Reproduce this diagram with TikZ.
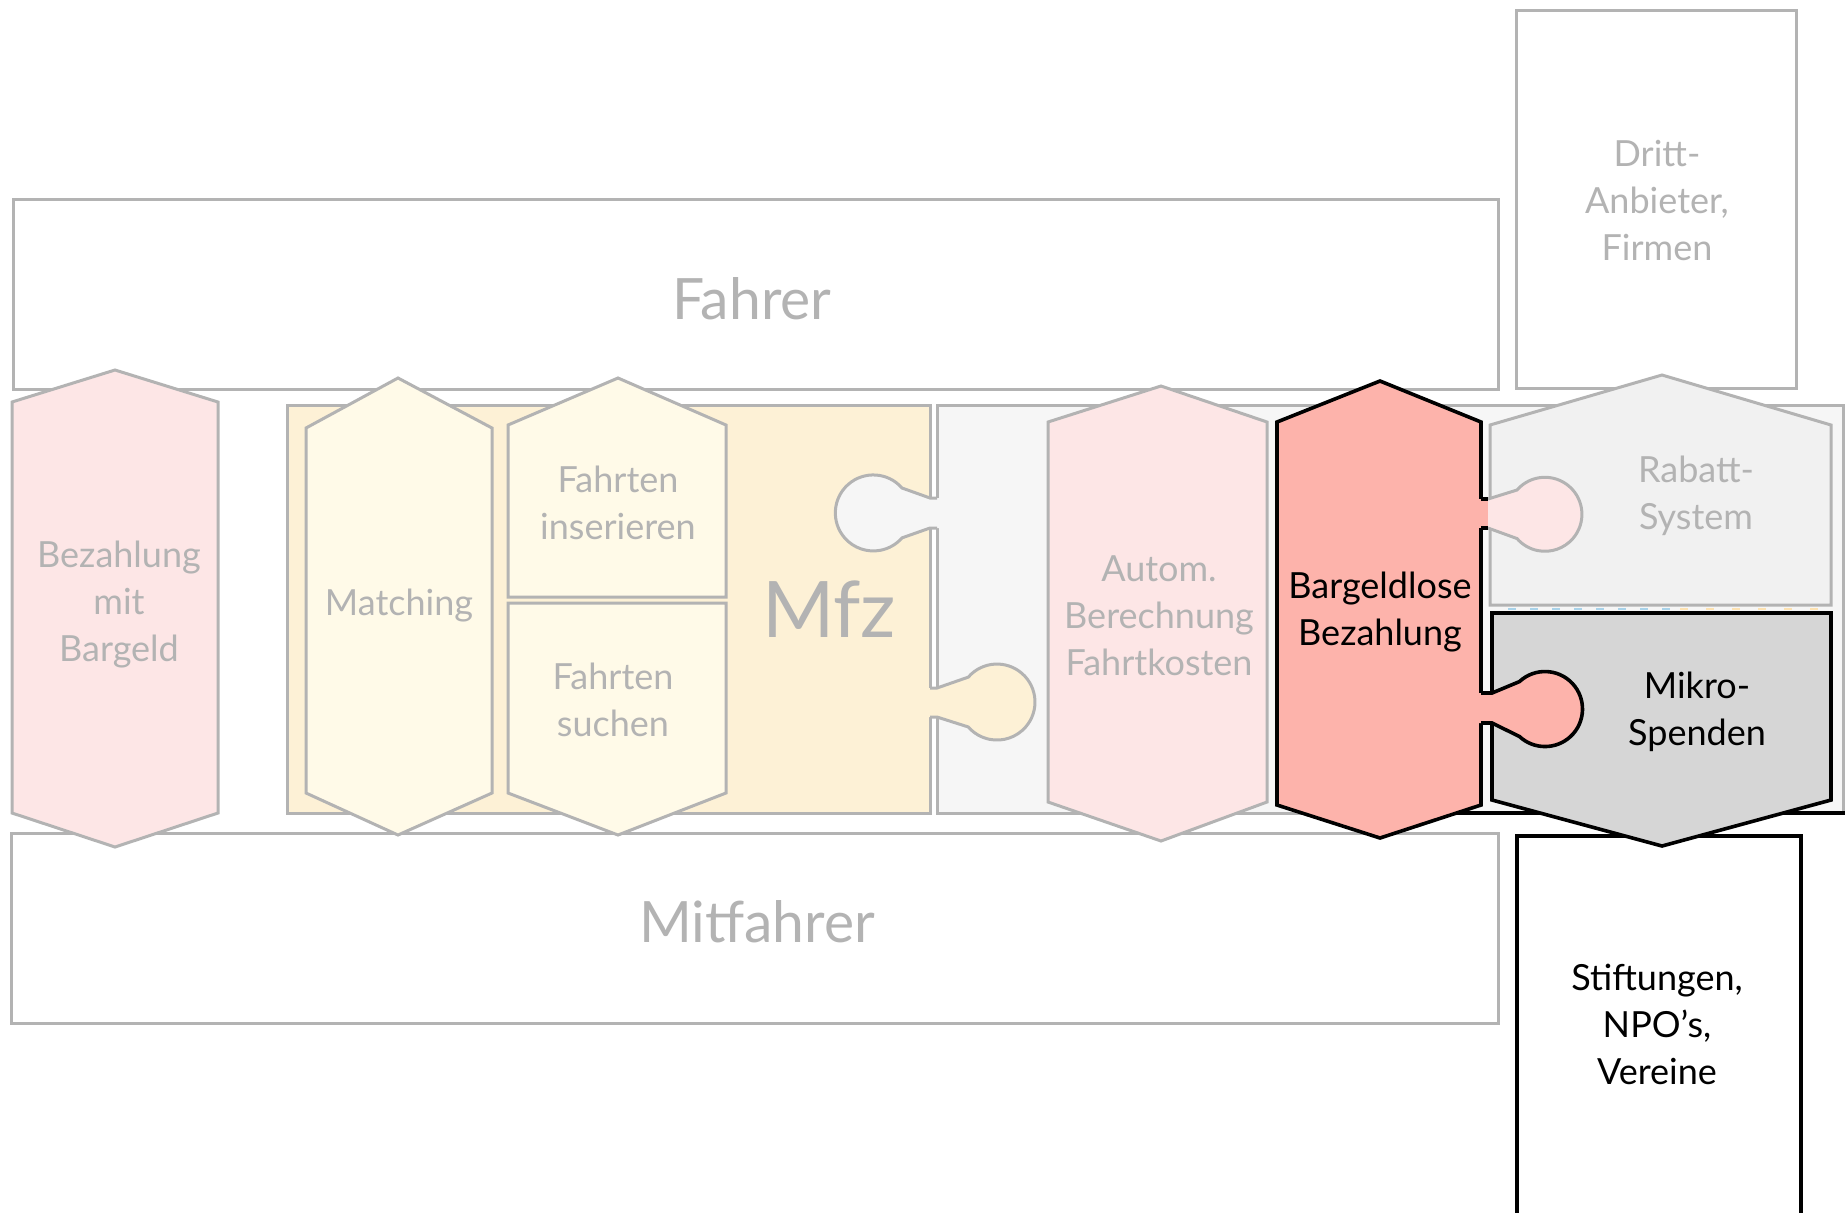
\documentclass[tikz,border=0pt]{standalone}
\usepackage{fontspec}
\setmainfont{Lato}
\definecolor{cgray}{HTML}{B3B3B3}
\definecolor{pinkfill}{HTML}{FDE6E6}
\definecolor{salmon}{HTML}{FDB3AB}
\definecolor{mfzfill}{HTML}{FDF1D6}
\definecolor{hexyellow}{HTML}{FFFAE8}
\definecolor{panelgray}{HTML}{F6F6F6}
\definecolor{rabattfill}{HTML}{F1F1F1}
\definecolor{mikrofill}{HTML}{D6D6D6}
\definecolor{dashblue}{HTML}{A9D3EA}
\definecolor{dashorange}{HTML}{FDE2B2}
\tikzset{
  gline/.style={draw=cgray, line width=1.5pt},
  bline/.style={draw=black, line width=1.8pt},
  gtext/.style={text=cgray, align=center, inner sep=0pt, font=\fontsize{18}{23.5}\selectfont},
  btext/.style={text=black, align=center, inner sep=0pt, font=\fontsize{18}{23.5}\selectfont},
  bigtext/.style={text=cgray, inner sep=0pt, font=\fontsize{28.5}{34}\selectfont},
  hugetext/.style={text=cgray, inner sep=0pt, font=\fontsize{39}{46}\selectfont},
}
\begin{document}
\begin{tikzpicture}[x=0.5pt, y=-0.5pt, line join=miter]
\useasboundingbox (0,0) rectangle (1845,1212);

% actor boxes
\draw[gline, fill=white] (13,199) rectangle (1498,389);
\draw[gline, fill=white] (11,833) rectangle (1498,1023);
\draw[gline, fill=white] (1516,10) rectangle (1796,388);
\draw[bline, fill=white] (1517,836) rectangle (1801,1225);
\node[bigtext] (fahrer) at (752,299) {Fahrer};
\node[bigtext] (mitfahrer) at (757,922) {Mitfahrer};
\node[gtext] (dritt) at (1657,200) {Dritt-\\Anbieter,\\Firmen};
\node[btext] (stift) at (1657,1024) {Stiftungen,\\NPO’s,\\Vereine};

% panels
\draw[gline, fill=mfzfill] (287,405) rectangle (930,813);
\draw[gline, fill=panelgray] (937,405) rectangle (1843,813);
\draw[black, line width=1.8pt] (1440,813) -- (1845,813);
\node[hugetext] (mfz) at (829,609) {Mfz};

% knob: gray panel into Mfz
\fill[panelgray] (939,498) -- (930,498) -- (902,488) arc[start angle=-41, end angle=-319, radius=38] -- (930,528) -- (939,528) -- cycle;
\draw[gline] (937,498) -- (930,498) -- (902,488) arc[start angle=-41, end angle=-319, radius=38] -- (930,528) -- (937,528);
% knob: Mfz into gray panel
\fill[mfzfill] (928,688) -- (937,688) -- (968.3,677.1) arc[start angle=-139, end angle=139, radius=38] -- (937,717) -- (928,717) -- cycle;
\draw[gline] (930,688) -- (937,688) -- (968.3,677.1) arc[start angle=-139, end angle=139, radius=38] -- (937,717) -- (930,717);

% hexagons
\draw[gline, fill=pinkfill] (12,402) -- (115,370) -- (218,402) -- (218,813) -- (115,847) -- (12,813) -- cycle;
\node[gtext] (barg) at (119,605) {Bezahlung\\mit\\Bargeld};

\draw[gline, fill=hexyellow] (306,428) -- (398,378) -- (492,428) -- (492,793) -- (398,835) -- (306,793) -- cycle;
\node[gtext] (match) at (399,606) {Matching};

\draw[gline, fill=hexyellow] (508,425) -- (618,378) -- (726,425) -- (726,597) -- (508,597) -- cycle;
\node[gtext] (fins) at (618,503) {Fahrten\\inserieren};

\draw[gline, fill=hexyellow] (508,603) -- (726,603) -- (726,793) -- (618,835) -- (508,793) -- cycle;
\node[gtext] (fsuch) at (613,700) {Fahrten\\suchen};

\draw[gline, fill=pinkfill] (1048,422) -- (1161,386) -- (1267,422) -- (1267,802) -- (1161,841) -- (1048,802) -- cycle;
\node[gtext] (autom) at (1159,616) {Autom.\\Berechnung\\Fahrtkosten};

\draw[bline, fill=salmon] (1277,422) -- (1380,381) -- (1481,422) -- (1481,805) -- (1380,838) -- (1277,805) -- cycle;
\node[btext] (bargl) at (1380,612) {Bargeldlose\\Bezahlung};

% right modules
\draw[gline, fill=rabattfill] (1490,425) -- (1662,375) -- (1831,425) -- (1831,605) -- (1490,605) -- cycle;
\node[gtext] (rabatt) at (1696,496) {Rabatt-\\System};
\draw[dashblue, line width=1pt, dash pattern=on 4pt off 7pt] (1508,609) -- (1672,609);
\draw[dashorange, line width=1pt, dash pattern=on 4pt off 9pt] (1680,609) -- (1820,609);
\draw[bline, fill=mikrofill] (1492,613) -- (1831,613) -- (1831,800) -- (1662,846) -- (1492,800) -- cycle;
\node[btext] (mikro) at (1697,712) {Mikro-\\Spenden};

% knob: Bargeldlose into Rabatt
\fill[salmon] (1478,499) rectangle (1488,528);
\fill[pinkfill] (1488,499) -- (1517,490) arc[start angle=-139, end angle=139, radius=37] -- (1488,528) -- cycle;
\draw[gline] (1488,499) -- (1517,490) arc[start angle=-139, end angle=139, radius=37] -- (1488,528);
\draw[black, line width=1.8pt] (1481,499) -- (1488,499) (1481,528) -- (1488,528);

% knob: Bargeldlose into Mikro
\fill[salmon] (1478,693) -- (1492,693) -- (1519.4,681.6) arc[start angle=-133, end angle=133, radius=37.5] -- (1492,723) -- (1478,723) -- cycle;
\draw[bline] (1481,693) -- (1492,693) -- (1519.4,681.6) arc[start angle=-133, end angle=133, radius=37.5] -- (1492,723) -- (1481,723);
\end{tikzpicture}
\end{document}
